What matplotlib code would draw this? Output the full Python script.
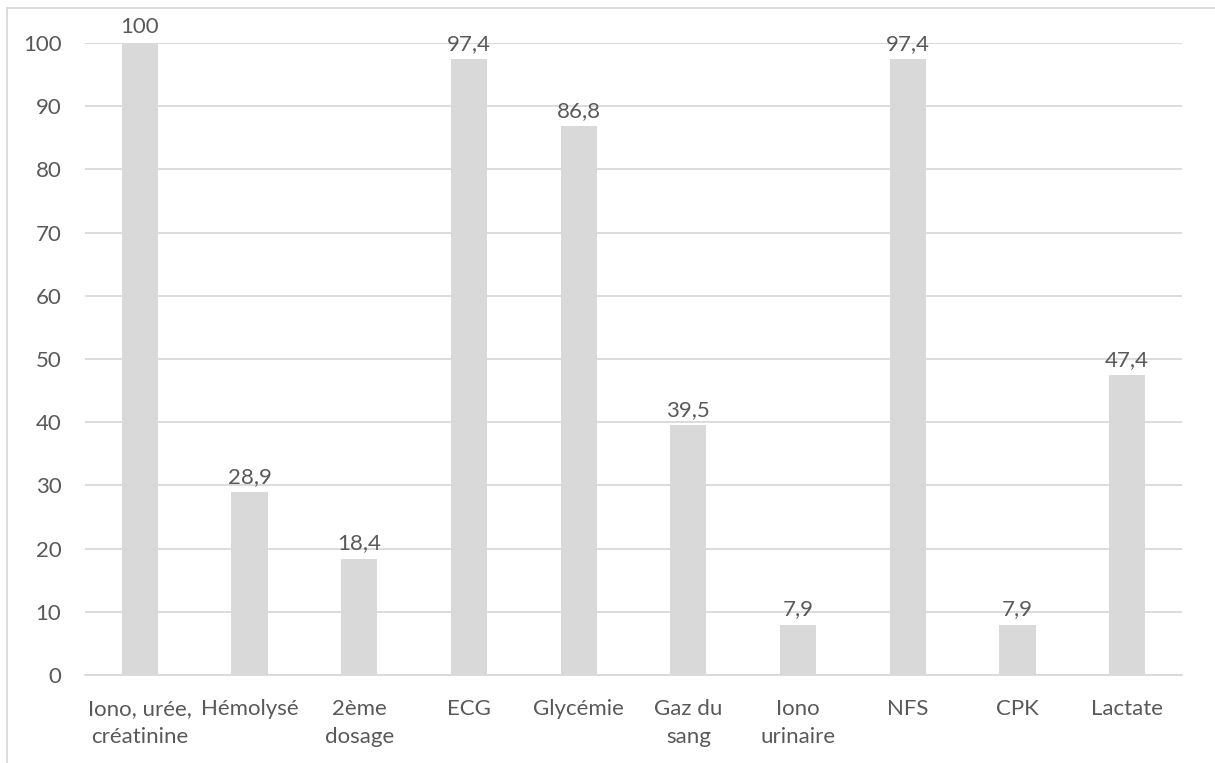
import numpy as np
import matplotlib.pyplot as plt
from matplotlib.lines import Line2D

W, H = 1215, 763

categories = ["Iono, urée,\ncréatinine", "Hémolysé", "2ème\ndosage", "ECG", "Glycémie",
              "Gaz du\nsang", "Iono\nurinaire", "NFS", "CPK", "Lactate"]
values = [100, 28.9, 18.4, 97.4, 86.8, 39.5, 7.9, 97.4, 7.9, 47.4]
yticks = [0, 10, 20, 30, 40, 50, 60, 70, 80, 90, 100]

plt.rcParams['font.family'] = ['Lato', 'DejaVu Sans']
TXT = '#595959'
GRID = '#D9D9D9'
FS = 16

fig = plt.figure(figsize=(W / 100, H / 100), dpi=100)
# plot area in pixels: left 85, right 1182, top 43, bottom 675
ax = fig.add_axes([85 / W, 1 - 675 / H, (1182 - 85) / W, (675 - 43) / H])

x = np.arange(len(categories))
bars = ax.bar(x, values, width=0.33, color='#D9D9D9', zorder=2)

for xi, v in zip(x, values):
    lbl = f"{v:g}".replace('.', ',')
    ax.annotate(lbl, (xi, v), xytext=(0, 4), textcoords='offset points',
                ha='center', va='bottom', fontsize=FS, color=TXT)

ax.set_xlim(-0.5, len(categories) - 0.5)
ax.set_ylim(0, 100)
ax.set_yticks(yticks)
ax.set_yticklabels([str(t) for t in yticks])
ax.set_xticks(x)
ax.set_xticklabels(categories, linespacing=1.5)
ax.tick_params(axis='both', length=0, labelsize=FS, labelcolor=TXT)
ax.tick_params(axis='y', pad=17)
ax.tick_params(axis='x', pad=17)

ax.yaxis.grid(True, color=GRID, linewidth=1.3, zorder=0)
ax.set_axisbelow(True)
for s in ['top', 'right', 'left']:
    ax.spines[s].set_visible(False)
ax.spines['bottom'].set_color(GRID)
ax.spines['bottom'].set_linewidth(1.3)

# chart border (cropped on right and bottom)
fig.add_artist(Line2D([7 / W, 7 / W], [0, 1 - 8 / H], color=GRID, linewidth=1.3))
fig.add_artist(Line2D([7 / W, 1], [1 - 8 / H, 1 - 8 / H], color=GRID, linewidth=1.3))

plt.savefig('out.png', dpi=100)
